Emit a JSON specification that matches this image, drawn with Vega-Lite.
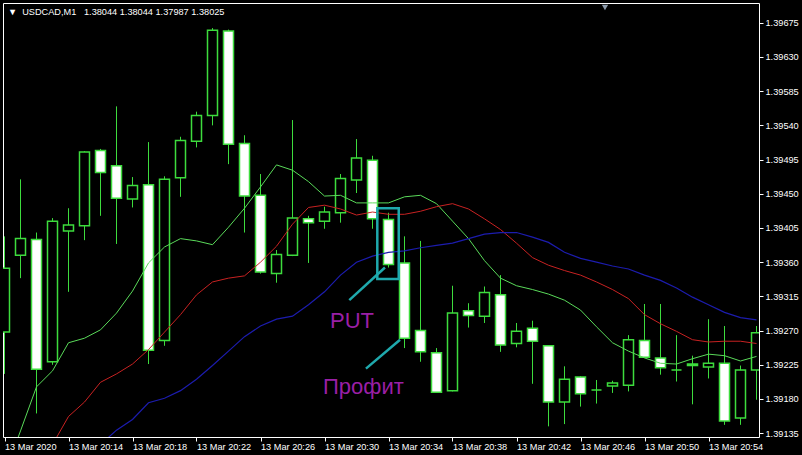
{
  "$schema": "https://vega.github.io/schema/vega-lite/v6.json",
  "width": 756,
  "height": 434,
  "autosize": {"type": "none"},
  "padding": {"left": 3, "top": 3, "right": 43, "bottom": 18},
  "background": "#000000",
  "config": {
    "view": {"stroke": "#ffffff", "strokeWidth": 1},
    "font": "Liberation Sans",
    "axis": {"grid": false, "domain": false, "title": null, "labelColor": "#ffffff", "tickColor": "#ffffff", "labelFont": "Liberation Sans", "labelFontSize": 9.2, "tickSize": 4, "labelOverlap": false, "labelBound": false, "labelFlush": false}
  },
  "title": {
    "text": "▼\u00a0 USDCAD,M1\u00a0\u00a0 1.38044 1.38044 1.37987 1.38025",
    "anchor": "start",
    "orient": "top",
    "frame": "group",
    "offset": -14,
    "dx": 5,
    "color": "#ffffff",
    "fontSize": 9.2,
    "fontWeight": "normal",
    "font": "Liberation Sans, DejaVu Sans"
  },
  "datasets": {
    "bars": [
      {"minute": 10, "open": 1.39268, "high": 1.39394, "low": 1.39213, "close": 1.39352, "ma_green": 1.39081, "ma_red": 1.39001, "ma_blue": 1.39001},
      {"minute": 11, "open": 1.39369, "high": 1.39469, "low": 1.39339, "close": 1.39391, "ma_green": 1.39138, "ma_red": 1.39041, "ma_blue": 1.39021},
      {"minute": 12, "open": 1.39390, "high": 1.39399, "low": 1.39161, "close": 1.39219, "ma_green": 1.39196, "ma_red": 1.39080, "ma_blue": 1.39041},
      {"minute": 13, "open": 1.39229, "high": 1.39418, "low": 1.39225, "close": 1.39414, "ma_green": 1.39217, "ma_red": 1.39120, "ma_blue": 1.39060},
      {"minute": 14, "open": 1.39401, "high": 1.39431, "low": 1.39321, "close": 1.39409, "ma_green": 1.39254, "ma_red": 1.39157, "ma_blue": 1.39080},
      {"minute": 15, "open": 1.39408, "high": 1.39506, "low": 1.39389, "close": 1.39505, "ma_green": 1.39260, "ma_red": 1.39176, "ma_blue": 1.39100},
      {"minute": 16, "open": 1.39507, "high": 1.39509, "low": 1.39421, "close": 1.39478, "ma_green": 1.39271, "ma_red": 1.39202, "ma_blue": 1.39120},
      {"minute": 17, "open": 1.39487, "high": 1.39565, "low": 1.39384, "close": 1.39444, "ma_green": 1.39293, "ma_red": 1.39213, "ma_blue": 1.39139},
      {"minute": 18, "open": 1.39443, "high": 1.39472, "low": 1.39432, "close": 1.39461, "ma_green": 1.39322, "ma_red": 1.39226, "ma_blue": 1.39153},
      {"minute": 19, "open": 1.39462, "high": 1.39518, "low": 1.39226, "close": 1.39244, "ma_green": 1.39359, "ma_red": 1.39245, "ma_blue": 1.39175},
      {"minute": 20, "open": 1.39257, "high": 1.39473, "low": 1.39250, "close": 1.39469, "ma_green": 1.39380, "ma_red": 1.39268, "ma_blue": 1.39181},
      {"minute": 21, "open": 1.39471, "high": 1.39525, "low": 1.39446, "close": 1.39520, "ma_green": 1.39391, "ma_red": 1.39291, "ma_blue": 1.39191},
      {"minute": 22, "open": 1.39519, "high": 1.39558, "low": 1.39511, "close": 1.39553, "ma_green": 1.39388, "ma_red": 1.39317, "ma_blue": 1.39206},
      {"minute": 23, "open": 1.39553, "high": 1.39668, "low": 1.39540, "close": 1.39665, "ma_green": 1.39383, "ma_red": 1.39334, "ma_blue": 1.39224},
      {"minute": 24, "open": 1.39664, "high": 1.39666, "low": 1.39489, "close": 1.39515, "ma_green": 1.39406, "ma_red": 1.39339, "ma_blue": 1.39243},
      {"minute": 25, "open": 1.39516, "high": 1.39527, "low": 1.39399, "close": 1.39447, "ma_green": 1.39431, "ma_red": 1.39342, "ma_blue": 1.39262},
      {"minute": 26, "open": 1.39448, "high": 1.39476, "low": 1.39345, "close": 1.39347, "ma_green": 1.39459, "ma_red": 1.39360, "ma_blue": 1.39276},
      {"minute": 27, "open": 1.39345, "high": 1.39376, "low": 1.39333, "close": 1.39370, "ma_green": 1.39488, "ma_red": 1.39381, "ma_blue": 1.39285},
      {"minute": 28, "open": 1.39369, "high": 1.39547, "low": 1.39368, "close": 1.39418, "ma_green": 1.39481, "ma_red": 1.39410, "ma_blue": 1.39289},
      {"minute": 29, "open": 1.39417, "high": 1.39421, "low": 1.39359, "close": 1.39412, "ma_green": 1.39466, "ma_red": 1.39432, "ma_blue": 1.39304},
      {"minute": 30, "open": 1.39414, "high": 1.39433, "low": 1.39404, "close": 1.39426, "ma_green": 1.39447, "ma_red": 1.39435, "ma_blue": 1.39321},
      {"minute": 31, "open": 1.39425, "high": 1.39476, "low": 1.39412, "close": 1.39470, "ma_green": 1.39448, "ma_red": 1.39430, "ma_blue": 1.39343},
      {"minute": 32, "open": 1.39468, "high": 1.39522, "low": 1.39451, "close": 1.39497, "ma_green": 1.39438, "ma_red": 1.39422, "ma_blue": 1.39360},
      {"minute": 33, "open": 1.39494, "high": 1.39500, "low": 1.39404, "close": 1.39417, "ma_green": 1.39438, "ma_red": 1.39426, "ma_blue": 1.39368},
      {"minute": 34, "open": 1.39416, "high": 1.39425, "low": 1.39353, "close": 1.39357, "ma_green": 1.39438, "ma_red": 1.39423, "ma_blue": 1.39373},
      {"minute": 35, "open": 1.39359, "high": 1.39394, "low": 1.39247, "close": 1.39260, "ma_green": 1.39446, "ma_red": 1.39423, "ma_blue": 1.39375},
      {"minute": 36, "open": 1.39270, "high": 1.39388, "low": 1.39229, "close": 1.39242, "ma_green": 1.39448, "ma_red": 1.39427, "ma_blue": 1.39379},
      {"minute": 37, "open": 1.39241, "high": 1.39247, "low": 1.39188, "close": 1.39189, "ma_green": 1.39437, "ma_red": 1.39433, "ma_blue": 1.39382},
      {"minute": 38, "open": 1.39191, "high": 1.39329, "low": 1.39190, "close": 1.39293, "ma_green": 1.39414, "ma_red": 1.39437, "ma_blue": 1.39385},
      {"minute": 39, "open": 1.39296, "high": 1.39306, "low": 1.39274, "close": 1.39290, "ma_green": 1.39391, "ma_red": 1.39430, "ma_blue": 1.39391},
      {"minute": 40, "open": 1.39289, "high": 1.39328, "low": 1.39280, "close": 1.39320, "ma_green": 1.39362, "ma_red": 1.39417, "ma_blue": 1.39397},
      {"minute": 41, "open": 1.39317, "high": 1.39343, "low": 1.39242, "close": 1.39251, "ma_green": 1.39339, "ma_red": 1.39403, "ma_blue": 1.39399},
      {"minute": 42, "open": 1.39253, "high": 1.39280, "low": 1.39248, "close": 1.39269, "ma_green": 1.39329, "ma_red": 1.39385, "ma_blue": 1.39399},
      {"minute": 43, "open": 1.39273, "high": 1.39283, "low": 1.39200, "close": 1.39256, "ma_green": 1.39324, "ma_red": 1.39366, "ma_blue": 1.39393},
      {"minute": 44, "open": 1.39250, "high": 1.39251, "low": 1.39144, "close": 1.39176, "ma_green": 1.39318, "ma_red": 1.39356, "ma_blue": 1.39386},
      {"minute": 45, "open": 1.39176, "high": 1.39223, "low": 1.39147, "close": 1.39206, "ma_green": 1.39310, "ma_red": 1.39349, "ma_blue": 1.39373},
      {"minute": 46, "open": 1.39209, "high": 1.39210, "low": 1.39170, "close": 1.39187, "ma_green": 1.39297, "ma_red": 1.39343, "ma_blue": 1.39365},
      {"minute": 47, "open": 1.39192, "high": 1.39205, "low": 1.39174, "close": 1.39192, "ma_green": 1.39275, "ma_red": 1.39334, "ma_blue": 1.39360},
      {"minute": 48, "open": 1.39197, "high": 1.39204, "low": 1.39188, "close": 1.39201, "ma_green": 1.39254, "ma_red": 1.39324, "ma_blue": 1.39355},
      {"minute": 49, "open": 1.39198, "high": 1.39264, "low": 1.39190, "close": 1.39258, "ma_green": 1.39243, "ma_red": 1.39312, "ma_blue": 1.39351},
      {"minute": 50, "open": 1.39257, "high": 1.39305, "low": 1.39234, "close": 1.39235, "ma_green": 1.39234, "ma_red": 1.39291, "ma_blue": 1.39343},
      {"minute": 51, "open": 1.39234, "high": 1.39305, "low": 1.39212, "close": 1.39221, "ma_green": 1.39227, "ma_red": 1.39279, "ma_blue": 1.39336},
      {"minute": 52, "open": 1.39218, "high": 1.39264, "low": 1.39203, "close": 1.39218, "ma_green": 1.39226, "ma_red": 1.39269, "ma_blue": 1.39326},
      {"minute": 53, "open": 1.39226, "high": 1.39237, "low": 1.39173, "close": 1.39224, "ma_green": 1.39233, "ma_red": 1.39258, "ma_blue": 1.39314},
      {"minute": 54, "open": 1.39222, "high": 1.39285, "low": 1.39207, "close": 1.39227, "ma_green": 1.39239, "ma_red": 1.39255, "ma_blue": 1.39304},
      {"minute": 55, "open": 1.39227, "high": 1.39276, "low": 1.39146, "close": 1.39151, "ma_green": 1.39237, "ma_red": 1.39256, "ma_blue": 1.39294},
      {"minute": 56, "open": 1.39155, "high": 1.39224, "low": 1.39146, "close": 1.39218, "ma_green": 1.39230, "ma_red": 1.39256, "ma_blue": 1.39287},
      {"minute": 57, "open": 1.39218, "high": 1.39276, "low": 1.39179, "close": 1.39267, "ma_green": 1.39236, "ma_red": 1.39253, "ma_blue": 1.39284}
    ],
    "box": [{"x_start": 33.30, "x_end": 34.64, "top": 1.39431, "bottom": 1.39338}],
    "pointers": [
      {"x_start": 31.55, "x_end": 33.78, "y_start": 1.39310, "y_end": 1.39353},
      {"x_start": 32.59, "x_end": 34.72, "y_start": 1.39220, "y_end": 1.39258}
    ],
    "labels": [
      {"minute": 31.72, "price": 1.39273, "label": "PUT"},
      {"minute": 32.43, "price": 1.39187, "label": "Профит"}
    ],
    "marker": [{"minute": 47.53, "price": 1.39695}]
  },
  "layer": [
    {
      "data": {"name": "bars"},
      "mark": {"type": "rule", "color": "#3ddc3d", "strokeWidth": 1, "clip": true},
      "encoding": {
        "x": {"field": "minute", "type": "quantitative", "scale": {"domain": [9.90625, 57.15625], "nice": false, "zero": false, "padding": 0},
          "axis": {"orient": "bottom", "values": [10, 14, 18, 22, 26, 30, 34, 38, 42, 46, 50, 54], "tickCount": 20, "labelExpr": "datum.value == 10 ? '13 Mar 2020' : '13 Mar 20:' + datum.value", "labelAlign": "left", "labelPadding": 1}},
        "y": {"field": "high", "type": "quantitative", "scale": {"domain": [1.39130, 1.39701], "nice": false, "zero": false, "padding": 0},
          "axis": {"orient": "right", "values": [1.39135, 1.3918, 1.39225, 1.3927, 1.39315, 1.3936, 1.39405, 1.3945, 1.39495, 1.3954, 1.39585, 1.3963, 1.39675], "tickCount": 20, "format": ".5f", "labelPadding": 2}},
        "y2": {"field": "low"}
      }
    },
    {
      "data": {"name": "bars"},
      "mark": {"type": "bar", "width": 10, "stroke": "#3ddc3d", "strokeWidth": 1.5, "clip": true},
      "encoding": {
        "x": {"field": "minute", "type": "quantitative", "scale": {"domain": [9.90625, 57.15625], "nice": false, "zero": false, "padding": 0}},
        "y": {"field": "open", "type": "quantitative", "scale": {"domain": [1.39130, 1.39701], "nice": false, "zero": false, "padding": 0}},
        "y2": {"field": "close"},
        "fill": {"condition": {"test": "datum.close < datum.open", "value": "#ffffff"}, "value": "#000000"}
      }
    },
    {
      "data": {"name": "bars"},
      "mark": {"type": "line", "color": "#5ada5a", "strokeWidth": 1, "clip": true},
      "encoding": {
        "x": {"field": "minute", "type": "quantitative"},
        "y": {"field": "ma_green", "type": "quantitative"}
      }
    },
    {
      "data": {"name": "bars"},
      "mark": {"type": "line", "color": "#c82222", "strokeWidth": 1, "clip": true},
      "encoding": {
        "x": {"field": "minute", "type": "quantitative"},
        "y": {"field": "ma_red", "type": "quantitative"}
      }
    },
    {
      "data": {"name": "bars"},
      "mark": {"type": "line", "color": "#1c1cae", "strokeWidth": 1.2, "clip": true},
      "encoding": {
        "x": {"field": "minute", "type": "quantitative"},
        "y": {"field": "ma_blue", "type": "quantitative"}
      }
    },
    {
      "data": {"name": "box"},
      "mark": {"type": "rect", "filled": false, "stroke": "#1fa9ad", "strokeWidth": 2.5},
      "encoding": {
        "x": {"field": "x_start", "type": "quantitative"},
        "x2": {"field": "x_end"},
        "y": {"field": "top", "type": "quantitative"},
        "y2": {"field": "bottom"}
      }
    },
    {
      "data": {"name": "pointers"},
      "mark": {"type": "rule", "color": "#1fa9ad", "strokeWidth": 2.5},
      "encoding": {
        "x": {"field": "x_start", "type": "quantitative"},
        "x2": {"field": "x_end"},
        "y": {"field": "y_start", "type": "quantitative"},
        "y2": {"field": "y_end"}
      }
    },
    {
      "data": {"name": "labels"},
      "mark": {"type": "text", "color": "#9a1fa6", "fontSize": 22, "font": "Liberation Sans", "align": "center", "baseline": "alphabetic"},
      "encoding": {
        "x": {"field": "minute", "type": "quantitative"},
        "y": {"field": "price", "type": "quantitative"},
        "text": {"field": "label"}
      }
    },
    {
      "data": {"name": "marker"},
      "mark": {"type": "point", "shape": "triangle-down", "filled": true, "color": "#8c9aab", "size": 40, "opacity": 1},
      "encoding": {
        "x": {"field": "minute", "type": "quantitative"},
        "y": {"field": "price", "type": "quantitative"}
      }
    }
  ]
}
